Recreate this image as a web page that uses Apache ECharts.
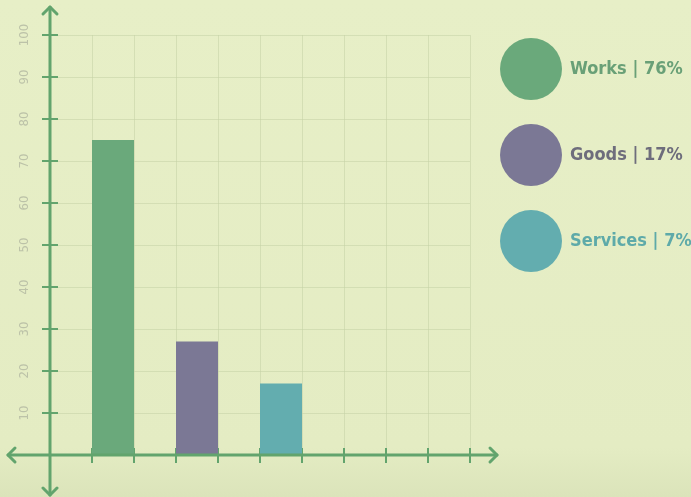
<!DOCTYPE html>
<html><head><meta charset="utf-8">
<script src="https://cdn.jsdelivr.net/npm/echarts@6/dist/echarts.min.js"></script>
<style>html,body{margin:0;padding:0;background:#e5eec5}#c{width:691px;height:497px}</style>
</head><body><div id="c"></div>
<script>
const slots = ['s0','s1','s2','s3','s4','s5','s6','s7','s8','s9'];
const names = ['Works','Goods','Services'];
const shares = [76, 17, 7];
const barValues = [75, 27, 17];
const barSlots = [1, 3, 5];
const barColors = ['#6aa97b', '#7b7895', '#63adaf'];
const textColors = ['#69a077', '#6e6d7c', '#5eaaa9'];
const yMin = 0, yMax = 100, yStep = 10;

const axisColor = '#62a46d';
const gridColor = 'rgba(196,210,165,0.55)';
const chart = echarts.init(document.getElementById('c'), null, {renderer: 'canvas'});

const tickStyle = {color: axisColor, width: 2};
chart.setOption({
  animation: false,
  backgroundColor: {type: 'linear', x: 0, y: 0, x2: 0, y2: 1, colorStops: [
    {offset: 0, color: '#e7efc7'}, {offset: 0.9, color: '#e4ecc3'}, {offset: 1, color: '#dbe4ba'}]},
  grid: {left: 50, right: 221, top: 35, bottom: 42},
  legend: {
    orient: 'vertical', left: 500, top: 38, padding: 0,
    itemWidth: 62, itemHeight: 62, itemGap: 24, icon: 'circle',
    selectedMode: false,
    data: names.map((n, i) => ({name: n, textStyle: {color: textColors[i]}})),
    formatter: n => n + ' | ' + shares[names.indexOf(n)] + '%',
    textStyle: {fontFamily: 'DejaVu Sans Condensed', fontWeight: 'bold', fontSize: 18, padding: [0, 0, 0, 3]}
  },
  xAxis: [
    {type: 'category', data: slots, boundaryGap: true,
     axisLine: {show: false}, axisLabel: {show: false},
     axisTick: {show: true, length: 8, lineStyle: tickStyle},
     splitLine: {show: true, lineStyle: {color: gridColor, width: 1}}},
    {type: 'category', data: slots, boundaryGap: true, position: 'bottom', offset: 0,
     axisLine: {show: false}, axisLabel: {show: false},
     axisTick: {show: true, inside: true, length: 7, lineStyle: tickStyle},
     splitLine: {show: false}}
  ],
  yAxis: [
    {type: 'value', min: yMin, max: yMax, interval: yStep,
     axisLine: {show: false},
     axisTick: {show: true, length: 8, lineStyle: tickStyle},
     axisLabel: {rotate: 90, color: '#bcc2a8', fontSize: 13, margin: 19, fontFamily: 'DejaVu Sans Condensed',
                 formatter: v => v === 0 ? '' : String(v)},
     splitLine: {show: true, lineStyle: {color: gridColor, width: 1}}},
    {type: 'value', min: yMin, max: yMax, interval: yStep, position: 'left', offset: 0,
     axisLine: {show: false}, axisLabel: {show: false},
     axisTick: {show: true, inside: true, length: 8, lineStyle: tickStyle},
     splitLine: {show: false}}
  ],
  series: names.map((n, i) => ({
    name: n, type: 'bar', stack: 'all', barWidth: '100%',
    itemStyle: {color: barColors[i]},
    emphasis: {disabled: true},
    data: slots.map((s, j) => j === barSlots[i] ? barValues[i] : '-')
  }))
});

// axis lines with arrow heads, placed from the axes' own scales
const c0 = chart.convertToPixel({xAxisIndex: 0}, slots[0]);
const c1 = chart.convertToPixel({xAxisIndex: 0}, slots[1]);
const slotW = c1 - c0;
const left = c0 - slotW / 2;
const right = chart.convertToPixel({xAxisIndex: 0}, slots[slots.length - 1]) + slotW / 2;
const yZero = chart.convertToPixel({yAxisIndex: 0}, yMin);
const yTop = chart.convertToPixel({yAxisIndex: 0}, yMax);
const a = 7;
const ls = {stroke: axisColor, lineWidth: 3, lineCap: 'round', lineJoin: 'round'};
const yB = yZero + 40, yT = yTop - 28, xL = left - 42, xR = right + 27;
chart.setOption({graphic: [
  {type: 'line', z: 50, silent: true, shape: {x1: left, y1: yB, x2: left, y2: yT}, style: ls},
  {type: 'line', z: 50, silent: true, shape: {x1: xL, y1: yZero, x2: xR, y2: yZero}, style: ls},
  {type: 'polyline', z: 50, silent: true, shape: {points: [[left - a, yT + a], [left, yT], [left + a, yT + a]]}, style: Object.assign({fill: null}, ls)},
  {type: 'polyline', z: 50, silent: true, shape: {points: [[left - a, yB - a], [left, yB], [left + a, yB - a]]}, style: Object.assign({fill: null}, ls)},
  {type: 'polyline', z: 50, silent: true, shape: {points: [[xL + a, yZero - a], [xL, yZero], [xL + a, yZero + a]]}, style: Object.assign({fill: null}, ls)},
  {type: 'polyline', z: 50, silent: true, shape: {points: [[xR - a, yZero - a], [xR, yZero], [xR - a, yZero + a]]}, style: Object.assign({fill: null}, ls)}
]});
</script></body></html>
